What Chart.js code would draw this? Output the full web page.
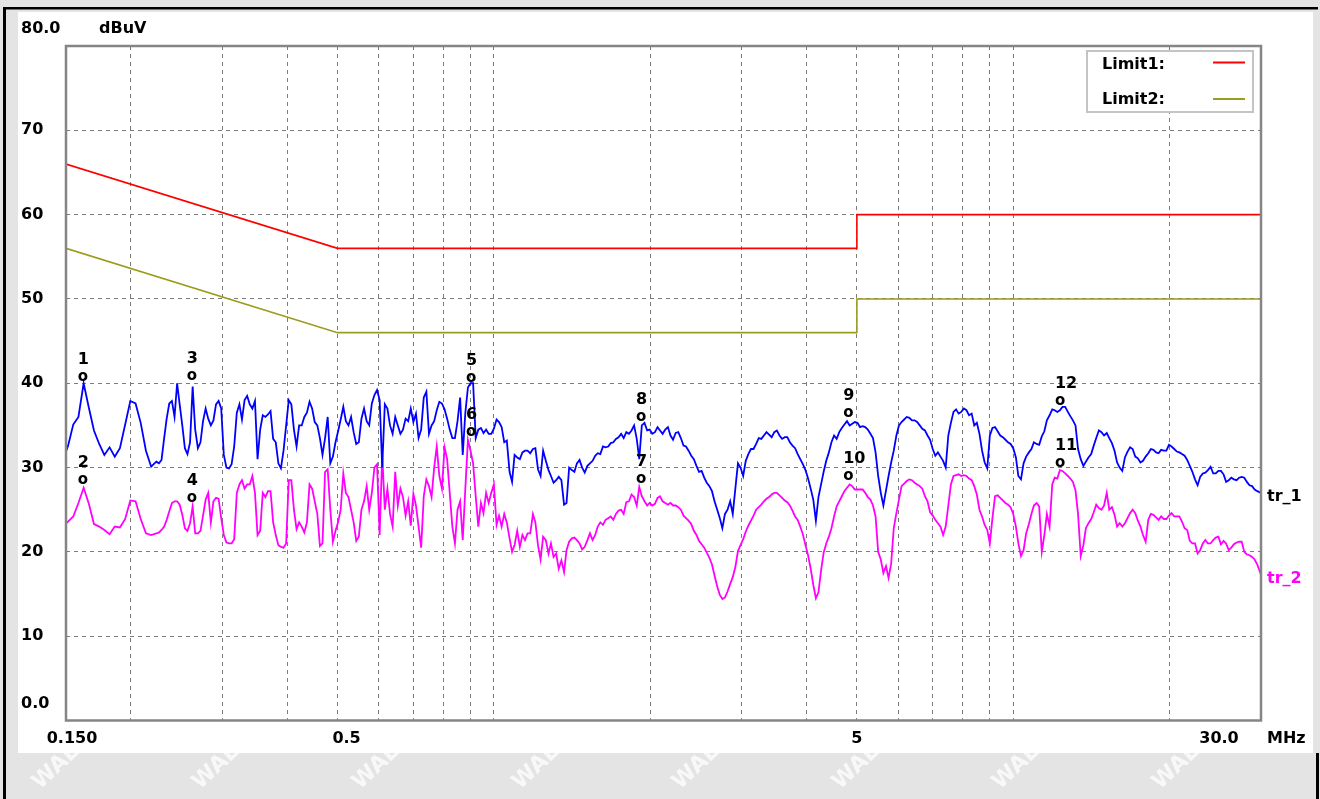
<!DOCTYPE html>
<html><head><meta charset="utf-8">
<script src="https://cdn.jsdelivr.net/npm/chart.js@4"></script>
<style>html,body{margin:0;padding:0;background:#e6e6e6;overflow:hidden}canvas{display:block}</style>
</head><body>
<canvas id="c" width="1320" height="799"></canvas>
<script>
// ---- data ----
const freqMHz = [0.150,
0.1514,0.1549,0.1585,0.1622,0.1660,0.1698,0.1738,0.1778,0.1820,0.1862,
0.1905,0.1950,0.1995,0.2042,0.2089,0.2138,0.2188,0.2239,0.2291,0.2344,
0.2399,0.2455,0.2512,0.2570,0.2630,0.2692,0.2754,0.2818,0.2884,0.2951,
0.3020,0.3090,0.3162,0.3236,0.3311,0.3388,0.3467,0.3548,0.3631,0.3715,
0.3802,0.3890,0.3981,0.4074,0.4169,0.4266,0.4365,0.4467,0.4571,0.4677,
0.4786,0.4898,0.5012,0.5129,0.5248,0.5370,0.5495,0.5623,0.5754,0.5888,
0.6026,0.6166,0.6310,0.6457,0.6607,0.6761,0.6918,0.7079,0.7244,0.7413,
0.7586,0.7762,0.7943,0.8128,0.8318,0.8511,0.8710,0.8913,0.9120,0.9333,
0.9550,0.9772,
1.000,1.023,1.047,1.072,1.096,1.122,1.148,1.175,1.202,1.230,
1.259,1.288,1.318,1.349,1.380,1.413,1.445,1.479,1.514,1.549,
1.585,1.622,1.660,1.698,1.738,1.778,1.820,1.862,1.905,1.950,
1.995,2.042,2.089,2.138,2.188,2.239,2.291,2.344,2.399,2.455,
2.512,2.570,2.630,2.692,2.754,2.818,2.884,2.951,3.020,3.090,
3.162,3.236,3.311,3.388,3.467,3.548,3.631,3.715,3.802,3.890,
3.981,4.074,4.169,4.266,4.365,4.467,4.571,4.677,4.786,4.898,
5.012,5.129,5.248,5.370,5.495,5.623,5.754,5.888,6.026,6.166,
6.310,6.457,6.607,6.761,6.918,7.079,7.244,7.413,7.586,7.762,
7.943,8.128,8.318,8.511,8.710,8.913,9.120,9.333,9.550,9.772,
10.00,10.23,10.47,10.72,10.96,11.22,11.48,11.75,12.02,12.30,
12.59,12.88,13.18,13.49,13.80,14.13,14.45,14.79,15.14,15.49,
15.85,16.22,16.60,16.98,17.38,17.78,18.20,18.62,19.05,19.50,
19.95,20.42,20.89,21.38,21.88,22.39,22.91,23.44,23.99,24.55,
25.12,25.70,26.30,26.92,27.54,28.18,28.84,29.51,
30.00];

const tr1 = [31.9,
32.6,35.1,36.0,40.0,37.1,34.4,32.8,31.5,32.4,31.3,
32.3,35.1,37.9,37.6,35.3,32.0,30.1,30.7,30.9,35.8,
37.9,40.0,35.0,31.6,39.6,32.3,35.5,35.8,35.6,37.9,
31.5,29.9,32.5,37.5,38.0,37.5,37.9,34.5,36.0,36.7,
33.0,29.9,35.0,37.5,32.5,35.0,36.5,37.0,35.0,31.5,
36.0,31.3,34.3,37.2,35.0,34.2,33.0,37.0,35.0,38.6,
38.0,37.5,35.0,36.0,34.0,35.8,37.0,36.4,34.5,39.0,
35.0,36.8,37.6,35.8,33.5,35.5,31.5,39.5,40.0,34.5,
34.1,34.0,34.6,35.4,33.0,29.5,31.5,31.0,32.0,31.7,
32.3,29.0,30.8,29.0,28.5,28.5,25.8,29.7,30.5,30.0,
30.2,30.8,31.7,32.5,32.5,33.0,33.6,33.5,34.0,35.0,
31.0,35.3,34.5,34.2,34.4,34.5,33.8,34.1,33.5,32.5,
31.4,30.2,29.6,28.2,27.2,25.0,22.8,25.0,24.5,30.5,
29.0,31.6,32.2,33.5,33.8,33.9,34.2,33.8,33.6,33.0,
32.3,31.0,29.7,27.5,23.7,28.0,30.8,33.0,33.4,34.7,
35.5,35.2,35.3,34.9,34.5,33.5,29.0,25.5,29.0,32.0,
35.0,35.7,35.9,35.6,35.0,34.4,33.3,31.4,31.3,30.0,
35.3,36.9,36.6,36.8,36.4,35.3,32.0,29.9,34.7,34.3,
33.6,33.0,32.3,29.0,30.5,31.8,33.0,32.7,34.3,36.2,
36.8,36.8,37.2,36.1,35.0,31.0,30.7,31.6,33.5,34.2,
34.1,32.9,30.6,29.6,31.9,32.2,31.1,30.8,31.7,32.1,
31.7,32.0,32.7,32.2,31.8,31.4,30.2,28.6,28.9,29.4,
30.1,29.3,29.6,28.3,28.8,28.5,28.9,28.3,27.8,27.2,
27.0];

const tr2 = [23.4,
23.6,24.2,25.8,27.6,25.7,23.3,23.0,22.6,22.1,23.0,
22.9,23.9,26.1,26.0,23.9,22.2,22.0,22.2,22.6,23.8,
25.8,26.0,24.4,22.5,25.4,22.2,24.3,27.0,26.0,26.3,
22.0,21.0,21.5,28.0,27.5,28.0,27.0,22.5,26.5,27.2,
22.0,20.6,21.0,28.5,22.7,23.0,23.5,27.5,24.5,21.0,
29.8,21.2,23.5,29.3,26.5,23.5,21.8,26.0,25.0,30.0,
22.0,25.0,24.5,29.5,27.5,24.3,23.1,25.5,20.5,28.6,
26.5,32.5,27.5,31.0,23.0,25.0,21.4,33.3,30.5,23.0,
24.6,25.8,28.0,24.3,24.5,21.6,20.8,20.6,21.4,22.2,
23.5,19.1,21.4,21.0,19.8,19.0,20.2,21.6,21.4,20.3,
21.4,21.4,23.0,23.2,24.0,23.8,24.9,24.5,26.0,26.5,
27.7,26.0,25.8,25.7,26.6,25.8,25.8,25.5,25.0,24.0,
23.3,22.0,20.9,19.9,18.5,15.9,14.4,15.3,17.0,20.1,
21.5,23.1,24.3,25.3,26.0,26.5,27.0,26.7,26.1,25.5,
24.2,23.0,20.8,18.0,14.5,17.8,21.0,22.8,25.4,26.6,
27.6,27.8,27.4,27.4,26.5,25.5,20.0,17.5,16.9,22.8,
26.2,28.1,28.6,28.2,27.8,26.6,24.7,23.8,23.0,23.0,
28.0,29.1,29.0,29.0,28.5,26.8,24.2,22.6,24.0,26.7,
26.1,25.6,24.5,21.0,20.2,23.3,25.5,25.4,22.0,23.0,
28.8,29.7,29.3,28.7,27.3,19.5,22.8,23.9,25.6,25.0,
27.0,25.3,23.0,23.0,24.0,25.0,23.7,22.0,23.8,24.4,
23.8,23.9,24.3,24.2,24.2,22.8,21.3,21.0,20.2,21.4,
21.0,21.7,20.9,21.0,20.5,21.1,21.2,19.7,19.4,18.5,
17.3];

// extra sweep points, 0.22 - 1.9 MHz
const midFreqMHz = [
0.2265,0.2318,0.2371,0.2427,0.2483,0.2541,0.2600,0.2660,0.2723,0.2786,
0.2851,0.2917,0.2985,0.3055,0.3126,0.3199,0.3273,0.3349,0.3427,0.3507,
0.3589,0.3673,0.3758,0.3846,0.3935,0.4027,0.4121,0.4217,0.4315,0.4416,
0.4519,0.4624,0.4731,0.4842,0.4955,0.5070,0.5188,0.5309,0.5432,0.5559,
0.5689,0.5821,0.5957,0.6095,0.6237,0.6383,0.6532,0.6683,0.6839,0.6998,
0.7161,0.7328,0.7499,0.7674,0.7852,0.8035,0.8222,0.8414,0.8610,0.8811,
0.9016,0.9226,0.9441,0.9661,0.9885,1.012,1.035,1.059,1.084,1.109,
1.135,1.161,1.189,1.216,1.244,1.274,1.303,1.333,1.365,1.396,
1.429,1.462,1.496,1.531,1.567,1.603,1.641,1.679,1.718,1.758,
1.799,1.841,1.884,1.927];

const tr1Mid = [
30.5,33.5,37.6,36.0,37.5,32.3,33.0,34.5,33.0,37.0,
35.0,37.5,37.0,30.0,30.4,36.5,35.7,38.5,37.0,31.0,
36.2,36.3,33.4,30.5,32.0,38.0,34.5,35.0,36.0,37.8,
35.4,33.5,33.5,30.5,33.0,35.7,35.5,36.0,32.8,35.8,
35.5,37.6,39.2,30.0,37.0,34.0,35.0,34.5,35.5,35.4,
33.5,38.3,34.0,35.5,37.8,36.9,34.5,33.5,38.3,36.5,
40.0,33.5,34.7,34.5,34.0,35.7,34.8,33.2,28.3,31.2,
31.8,32.0,32.2,29.8,32.0,29.7,28.2,28.9,25.6,30.0,
29.5,30.9,29.4,30.5,31.4,31.6,32.4,32.9,33.4,34.0,
34.2,34.4,33.4,35.0];

const tr2Mid = [
22.3,23.0,24.8,26.0,25.6,22.8,23.4,22.2,22.5,26.2,
23.5,26.4,24.0,21.1,21.0,27.0,28.5,28.0,29.0,22.0,
27.0,27.2,23.5,20.8,20.5,28.5,25.0,23.5,22.3,28.0,
26.0,20.7,29.5,25.0,22.5,25.0,27.0,25.0,21.3,25.0,
27.8,27.0,30.4,31.5,27.5,23.0,25.5,26.5,26.0,26.9,
23.0,26.6,27.8,30.0,29.0,32.4,27.0,21.0,26.0,27.5,
32.0,26.6,25.8,27.0,27.0,23.2,23.0,23.5,20.0,22.5,
22.0,22.2,24.5,20.8,21.8,19.8,19.4,18.0,17.6,21.2,
21.7,21.0,20.6,22.2,22.0,23.5,23.8,24.2,24.5,25.0,
25.9,26.8,25.5,26.6];

// extra sweep points, 1.97 - 29.2 MHz
const highFreqMHz = [
1.973,2.018,2.066,2.113,2.163,2.213,2.265,2.318,2.371,2.427,
2.483,2.541,2.600,2.660,2.723,2.786,2.851,2.917,2.985,3.055,
3.126,3.199,3.273,3.349,3.427,3.507,3.589,3.673,3.758,3.846,
3.935,4.027,4.121,4.217,4.315,4.416,4.519,4.624,4.731,4.842,
4.955,5.070,5.188,5.309,5.432,5.559,5.689,5.821,5.957,6.095,
6.237,6.383,6.532,6.683,6.839,6.998,7.161,7.328,7.499,7.674,
7.852,8.035,8.222,8.414,8.610,8.811,9.016,9.226,9.441,9.661,
9.885,10.12,10.35,10.59,10.84,11.09,11.35,11.61,11.89,12.16,
12.44,12.74,13.03,13.33,13.65,13.96,14.29,14.62,14.96,15.31,
15.67,16.03,16.41,16.79,17.18,17.58,17.99,18.41,18.84,19.27,
19.72,20.18,20.66,21.13,21.63,22.13,22.65,23.18,23.71,24.27,
24.83,25.41,26.00,26.60,27.23,27.86,28.51,29.17];

const tr1High = [
34.4,34.0,34.8,34.0,34.8,33.3,34.2,32.6,32.0,31.0,
29.5,28.8,27.8,26.0,24.0,24.5,26.0,27.5,30.0,30.8,
32.2,32.8,33.4,34.2,33.6,34.4,33.4,33.6,32.6,31.6,
30.4,28.7,26.2,26.5,29.5,31.8,33.8,34.2,35.1,35.0,
35.4,34.8,34.8,34.0,31.8,27.0,27.3,30.6,33.8,35.4,
36.0,35.6,35.4,34.6,33.8,32.2,31.8,30.8,33.8,36.6,
36.4,37.0,36.2,35.0,34.0,30.6,33.8,34.8,33.8,33.3,
32.8,31.2,28.6,31.3,32.2,32.8,33.7,35.6,36.9,36.6,
37.2,36.6,35.6,32.2,30.2,31.2,32.6,34.4,33.8,33.5,
32.0,30.0,31.2,32.4,31.3,30.6,31.3,32.2,31.8,32.1,
32.0,32.5,31.9,31.6,30.9,29.5,27.9,29.3,29.7,29.3,
29.6,29.2,28.5,28.6,28.8,28.8,27.9,27.4];

const tr2High = [
25.5,25.5,26.4,26.0,25.6,25.5,25.3,24.3,23.7,22.5,
21.3,20.5,19.3,17.2,14.9,14.6,16.2,18.2,20.8,22.4,
23.7,25.0,25.6,26.3,26.8,27.0,26.4,25.9,24.9,23.8,
22.1,19.6,16.1,15.2,19.9,21.8,24.2,26.0,27.2,28.0,
27.4,27.4,27.0,26.2,24.2,19.1,18.3,18.6,24.6,27.8,
28.4,28.5,28.0,27.5,26.0,24.3,23.4,22.0,25.5,29.0,
29.2,29.1,28.7,27.8,25.0,23.2,21.0,26.6,26.4,25.8,
25.3,23.0,19.5,22.2,24.5,25.8,20.0,24.5,28.0,28.7,
29.6,29.0,28.3,24.5,20.8,23.4,24.7,25.2,25.5,25.0,
24.4,23.4,23.4,24.6,24.6,23.0,21.2,24.5,24.1,24.2,
23.9,24.6,24.2,23.6,22.6,21.0,19.8,21.0,21.0,21.4,
21.8,21.3,20.2,20.9,21.2,20.0,19.6,19.1];

const limit1Freq  = [0.15, 0.5, 5, 5, 30];
const limit1Level = [66, 56, 56, 60, 60];
const limit2Freq  = [0.15, 0.5, 5, 5, 30];
const limit2Level = [56, 46, 46, 50, 50];

const markerLabels = ['1','2','3','4','5','6','7','8','9','10','11','12'];
const markerFreq   = [0.1616,0.1616,0.2619,0.2619,0.904,0.904,1.92,1.92,4.81,4.81,12.3,12.3];
const markerLevel  = [39.8,27.6,39.9,25.4,39.7,33.3,27.7,35.0,35.5,28.0,29.6,37.0];

const xGridTicks  = [0.2,0.3,0.4,0.5,0.6,0.7,0.8,0.9,1,2,3,4,5,6,7,8,9,10,20];
const xTickValues = [0.15, 0.5, 5, 30];
const xTickLabels = ['0.150', '0.5', '5', '30.0'];
const yTickValues = [80,70,60,50,40,30,20,10,0];
const yTickLabels = ['80.0','70','60','50','40','30','20','10','0.0'];
const yUnit = 'dBuV';
const xUnit = 'MHz';
const legendNames  = ['Limit1:', 'Limit2:'];
const legendColors = ['#ff0000', '#9c9c1c'];
const traceNames   = ['tr_1', 'tr_2'];
const traceColors  = ['#0000ff', '#ff00ff'];

// ---- sweep table: all read points, sorted by frequency ----
const sweep = freqMHz.map((f, i) => [f, tr1[i], tr2[i]])
  .concat(midFreqMHz.map((f, i) => [f, tr1Mid[i], tr2Mid[i]]))
  .concat(highFreqMHz.map((f, i) => [f, tr1High[i], tr2High[i]]))
  .sort((a, b) => a[0] - b[0]);

// ---- drawing ----
const FONT = 'bold 16px "DejaVu Sans", sans-serif';
const pts = (fs, vs) => fs.map((f, i) => ({x: f, y: vs[i]}));

const deco = {
  id: 'deco',
  beforeDraw(chart) {
    const ctx = chart.ctx;
    ctx.save();
    ctx.fillStyle = '#e4e4e4';
    ctx.fillRect(0, 0, 1320, 799);
    ctx.fillStyle = 'rgba(255,255,255,0.75)';
    ctx.font = 'bold 22px "DejaVu Sans", sans-serif';
    for (let wx = 40; wx < 1320; wx += 160) {
      ctx.save(); ctx.translate(wx, 790); ctx.rotate(-0.75); ctx.fillText('WALTEK', 0, 0); ctx.restore();
    }
    ctx.fillStyle = '#ffffff';
    ctx.fillRect(18, 12, 1295, 741);
    ctx.fillStyle = '#000000';
    ctx.fillRect(3, 7, 3, 792);
    ctx.fillRect(3, 7, 1315, 2.5);
    ctx.fillRect(1316, 753, 3, 46);
    ctx.restore();
  },
  afterDraw(chart) {
    const {ctx, chartArea: a} = chart;
    const xs = chart.scales.x, ys = chart.scales.y;
    ctx.save();
    ctx.strokeStyle = '#858585';
    ctx.lineWidth = 2.5;
    ctx.strokeRect(a.left, a.top, a.right - a.left, a.bottom - a.top);

    ctx.font = FONT;
    ctx.textBaseline = 'alphabetic';
    ctx.fillStyle = '#000';
    ctx.textAlign = 'left';
    yTickValues.forEach((v, i) => {
      let py = ys.getPixelForValue(v);
      py += (i === 0 || i === yTickValues.length - 1) ? -19 : -2;
      ctx.fillText(yTickLabels[i], 21, py + 6);
    });
    ctx.fillText(yUnit, 99, ys.getPixelForValue(80) - 19 + 6);
    const xOff = [6, 9, 0, -42];
    ctx.textAlign = 'center';
    xTickValues.forEach((v, i) => {
      ctx.fillText(xTickLabels[i], xs.getPixelForValue(v) + xOff[i], a.bottom + 16 + 6);
    });
    ctx.textAlign = 'left';
    ctx.fillText(xUnit, 1267, a.bottom + 16 + 6);

    // legend box
    ctx.fillStyle = '#fff';
    ctx.fillRect(1086, 50, 167, 62);
    ctx.strokeStyle = '#c4c4c4';
    ctx.lineWidth = 2;
    ctx.strokeRect(1087, 51, 166, 61);
    legendNames.forEach((n, i) => {
      const cy = 62.5 + i * 35;
      ctx.fillStyle = '#000';
      ctx.fillText(n, 1102, cy + 6);
      ctx.strokeStyle = legendColors[i];
      ctx.lineWidth = 2;
      ctx.beginPath(); ctx.moveTo(1213, cy + i * 1.5); ctx.lineTo(1245, cy + i * 1.5); ctx.stroke();
    });

    // markers
    ctx.fillStyle = '#000';
    markerLabels.forEach((m, i) => {
      const px = xs.getPixelForValue(markerFreq[i]);
      const py = ys.getPixelForValue(markerLevel[i]);
      ctx.font = 'bold 15px "DejaVu Sans", sans-serif';
      ctx.fillText('o', px - 5, py - 8 + 4);
      ctx.font = FONT;
      ctx.fillText(m, px - 5, py - 27 + 6);
    });

    // trace names
    ctx.font = FONT;
    [tr1, tr2].forEach((tr, i) => {
      ctx.fillStyle = i === 0 ? '#000' : traceColors[1];
      ctx.fillText(traceNames[i], xs.getPixelForValue(30) + 6, ys.getPixelForValue(tr[tr.length - 1]) + 2 + 6);
    });
    ctx.restore();
  }
};

const gridOpts = {color: '#7c7c7c', lineWidth: 1, drawTicks: false};

new Chart(document.getElementById('c'), {
  type: 'line',
  data: {
    datasets: [
      {label: 'Limit1', data: pts(limit1Freq, limit1Level), borderColor: legendColors[0], borderWidth: 1.6},
      {label: 'Limit2', data: pts(limit2Freq, limit2Level), borderColor: legendColors[1], borderWidth: 1.6},
      {label: 'tr_1', data: sweep.map(r => ({x: r[0], y: r[1]})), borderColor: traceColors[0], borderWidth: 1.8},
      {label: 'tr_2', data: sweep.map(r => ({x: r[0], y: r[2]})), borderColor: traceColors[1], borderWidth: 1.8}
    ]
  },
  options: {
    responsive: false,
    animation: false,
    devicePixelRatio: 1,
    elements: {point: {radius: 0}, line: {tension: 0, fill: false}},
    layout: {padding: {left: 66, top: 46, right: 59, bottom: 78.5}},
    plugins: {legend: {display: false}, tooltip: {enabled: false}, title: {display: false}},
    scales: {
      x: {
        type: 'logarithmic', min: 0.15, max: 30,
        afterBuildTicks(s) { s.ticks = xGridTicks.map(v => ({value: v})); },
        afterFit(s) { s.height = 0; },
        ticks: {display: false},
        grid: gridOpts,
        border: {display: false, dash: [4, 4]}
      },
      y: {
        type: 'linear', min: 0, max: 80,
        afterBuildTicks(s) { s.ticks = yTickValues.map(v => ({value: v})); },
        afterFit(s) { s.width = 0; },
        ticks: {display: false},
        grid: gridOpts,
        border: {display: false, dash: [4, 4]}
      }
    }
  },
  plugins: [deco]
});
</script>
</body></html>
